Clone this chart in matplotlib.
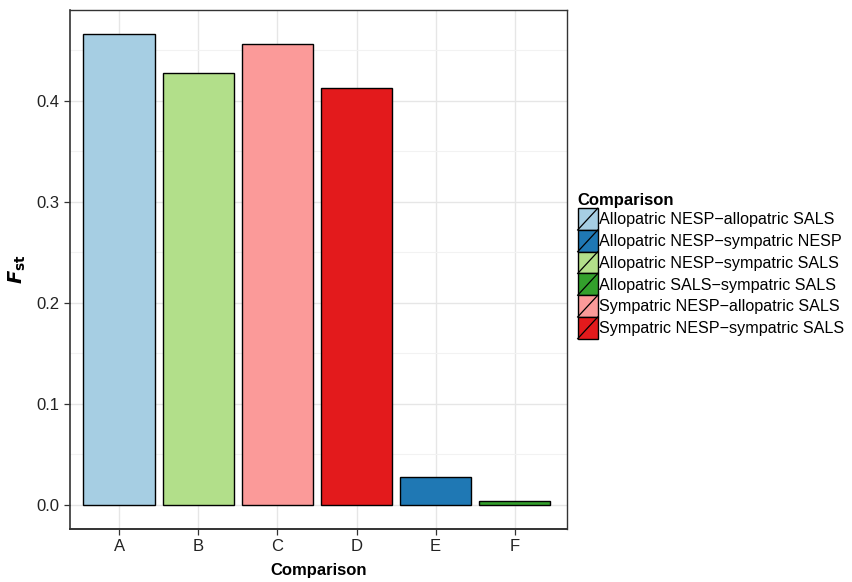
import numpy as np
import matplotlib
matplotlib.use('Agg')
import matplotlib.pyplot as plt
from matplotlib.patches import Rectangle, Patch
from matplotlib.lines import Line2D
from matplotlib.legend_handler import HandlerBase
from matplotlib.ticker import MultipleLocator

plt.rcParams['font.family'] = ['Liberation Sans', 'DejaVu Sans']

categories = ['A', 'B', 'C', 'D', 'E', 'F']
fst = [0.466, 0.428, 0.456, 0.413, 0.027, 0.004]
labels = ['Allopatric NESP\u2212allopatric SALS',
          'Allopatric NESP\u2212sympatric SALS',
          'Sympatric NESP\u2212allopatric SALS',
          'Sympatric NESP\u2212sympatric SALS',
          'Allopatric NESP\u2212sympatric NESP',
          'Allopatric SALS\u2212sympatric SALS']
colors = ['#A6CEE3', '#B2DF8A', '#FB9A99', '#E31A1C', '#1F78B4', '#33A02C']
legend_order = [0, 4, 1, 5, 2, 3]


class SlashHandler(HandlerBase):
    def create_artists(self, legend, orig_handle, xdescent, ydescent,
                       width, height, fontsize, trans):
        x0, y0 = -xdescent, -ydescent
        r = Rectangle((x0, y0), width, height, facecolor=orig_handle.get_facecolor(),
                      edgecolor='black', lw=1.0, transform=trans)
        ln = Line2D([x0, x0 + width], [y0, y0 + height], color='black', lw=0.9,
                    transform=trans)
        return [r, ln]


fig = plt.figure(figsize=(8.52, 5.82), dpi=100)
ax = fig.add_axes([0.0822, 0.0911, 0.5833, 0.8917])

x = np.arange(1, len(categories) + 1)
ax.bar(x, fst, width=0.9, color=colors, edgecolor='black', linewidth=1.0, zorder=3)

ax.set_xlim(0.38, 6.66)
ax.yaxis.set_major_locator(MultipleLocator(0.1))
ax.yaxis.set_minor_locator(MultipleLocator(0.05))
ax.set_ylim(-0.024, 0.49)
ax.set_xticks(x)
ax.set_xticklabels(categories)
ax.yaxis.set_major_formatter(lambda v, p: f'{v:.1f}')

ax.grid(which='major', color='#E6E6E6', lw=1.0, zorder=0)
ax.grid(which='minor', axis='y', color='#F2F2F2', lw=0.8, zorder=0)
ax.tick_params(which='minor', length=0)
ax.tick_params(which='major', direction='out', length=4, color='#333333',
               labelsize=12, labelcolor='#222222', width=0.9)
for s in ax.spines.values():
    s.set_color('#333333')
    s.set_linewidth(1.0)
ax.spines['bottom'].set_linewidth(1.4)
ax.spines['left'].set_linewidth(1.2)

ax.set_xlabel('Comparison', fontsize=12, fontweight='bold', labelpad=6)
ax.set_ylabel(r'$\mathbfit{F}_{\mathbf{st}}$', fontsize=14, labelpad=6)

handles = [Patch(facecolor=colors[i]) for i in legend_order]
leg = fig.legend(handles, [labels[i] for i in legend_order],
                 title='Comparison', loc='center left',
                 bbox_to_anchor=(0.678, 0.543), frameon=False,
                 handler_map={Patch: SlashHandler()},
                 handlelength=1.25, handleheight=1.7, labelspacing=0.0,
                 handletextpad=0.1, fontsize=11.6, alignment='left',
                 borderpad=0.0, borderaxespad=0.0)
leg.get_title().set_fontweight('bold')
leg.get_title().set_fontsize(12)

fig.savefig('out.png', dpi=100)
